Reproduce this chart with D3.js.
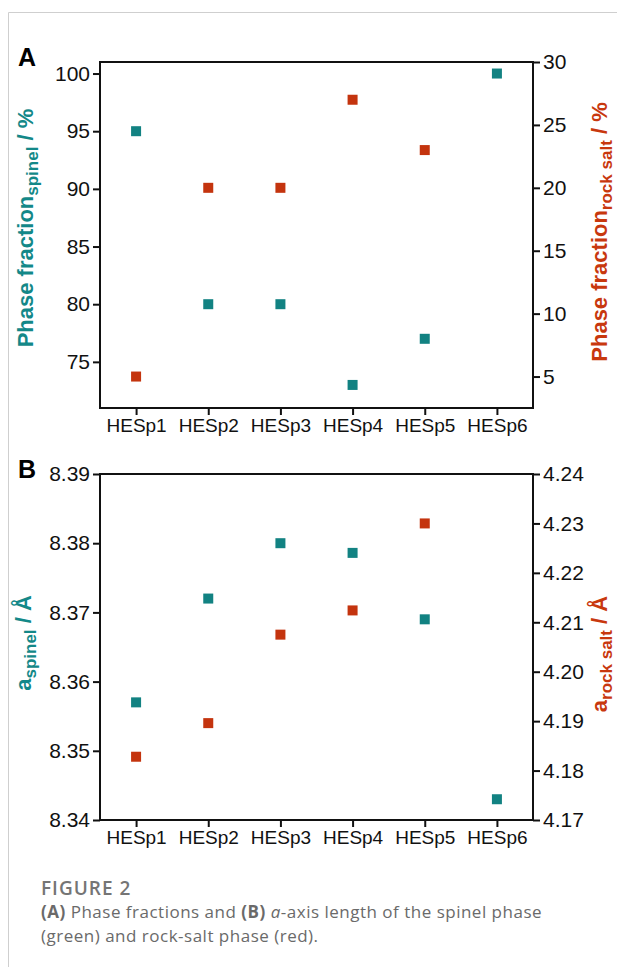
<!DOCTYPE html>
<html>
<head>
<meta charset="utf-8">
<script src="https://cdn.jsdelivr.net/npm/d3@7"></script>
<style>
  body { margin: 0; background: #fff; }
  text { font-family: "Liberation Sans", Arial, sans-serif; }
  .caption { font-family: "Open Sans", "Noto Sans", sans-serif; }
</style>
</head>
<body>
<div id="my_dataviz"></div>
<script>
// data
const samples = ['HESp1', 'HESp2', 'HESp3', 'HESp4', 'HESp5', 'HESp6'];
const fracSpinel = [95, 80, 80, 73, 77, 100];
const fracRockSalt = [5, 20, 20, 27, 23, null];
const aSpinel = [8.357, 8.372, 8.380, 8.3786, 8.369, 8.343];
const aRockSalt = [4.1828, 4.1896, 4.2075, 4.2124, 4.2300, null];

const ticksFracSpinel = [75, 80, 85, 90, 95, 100];
const ticksFracRockSalt = [5, 10, 15, 20, 25, 30];
const ticksASpinel = [8.34, 8.35, 8.36, 8.37, 8.38, 8.39];
const ticksARockSalt = [4.17, 4.18, 4.19, 4.20, 4.21, 4.22, 4.23, 4.24];

const green = "#128282", red = "#c4340e";
const greenLabel = "#138888", redLabel = "#c8380e";

const W = 617, H = 967;
const left = 100, right = 533;

const svg = d3.select("#my_dataviz")
  .append("svg")
    .attr("width", W)
    .attr("height", H);

// page frame (top + left rule)
svg.append("path")
  .attr("d", `M8.5,967 V12.5 H617`)
  .attr("fill", "none")
  .attr("stroke", "#cfcfcf")
  .attr("stroke-width", 1);

const x = d3.scalePoint()
  .domain(samples)
  .range([left, right])
  .padding(0.5);

// one panel = box, 2 y axes, x axis, squares, labels
function panel(opt) {
  const g = svg.append("g");
  const yL = d3.scaleLinear().domain(opt.domL).range([opt.bottom, opt.top]);
  const yR = d3.scaleLinear().domain(opt.domR).range([opt.bottom, opt.top]);

  // x axis
  const xa = g.append("g")
    .attr("transform", `translate(0,${opt.bottom})`)
    .call(d3.axisBottom(x).tickSize(7).tickPadding(4).tickSizeOuter(0));
  xa.selectAll("text").style("font-size", "19px").attr("fill", "#111");

  // left axis
  const la = g.append("g")
    .attr("transform", `translate(${left},0)`)
    .call(d3.axisLeft(yL).tickValues(opt.ticksL).tickFormat(opt.fmtL)
      .tickSize(7).tickPadding(3).tickSizeOuter(0));
  la.selectAll("text").style("font-size", "21px").attr("fill", "#111");

  // right axis
  const ra = g.append("g")
    .attr("transform", `translate(${right},0)`)
    .call(d3.axisRight(yR).tickValues(opt.ticksR).tickFormat(opt.fmtR)
      .tickSize(7).tickPadding(3).tickSizeOuter(0));
  ra.selectAll("text").style("font-size", "21px").attr("fill", "#111");

  g.selectAll(".domain").remove();
  g.selectAll(".tick line").attr("stroke", "#111").attr("stroke-width", 2);

  // frame
  g.append("rect")
    .attr("x", left).attr("y", opt.top)
    .attr("width", right - left).attr("height", opt.bottom - opt.top)
    .attr("fill", "none")
    .attr("stroke", "#111")
    .attr("stroke-width", 2);

  const s = 10;
  // rock salt squares (red, right axis)
  g.append("g").selectAll("rect")
    .data(samples.map((d, i) => [d, opt.valsR[i]]).filter(d => d[1] != null))
    .join("rect")
      .attr("x", d => x(d[0]) - s / 2)
      .attr("y", d => yR(d[1]) - s / 2)
      .attr("width", s).attr("height", s)
      .attr("fill", red);

  // spinel squares (green, left axis)
  g.append("g").selectAll("rect")
    .data(samples.map((d, i) => [d, opt.valsL[i]]).filter(d => d[1] != null))
    .join("rect")
      .attr("x", d => x(d[0]) - s / 2)
      .attr("y", d => yL(d[1]) - s / 2)
      .attr("width", s).attr("height", s)
      .attr("fill", green);

  // panel letter
  g.append("text")
    .attr("x", 18).attr("y", opt.top + 4)
    .style("font-size", "25px")
    .style("font-weight", "bold")
    .text(opt.letter);

  // axis titles, rotated
  function title(cx, cy, color, main, sub, tail) {
    const t = g.append("text")
      .attr("transform", `translate(${cx},${cy}) rotate(-90)`)
      .attr("text-anchor", "middle")
      .attr("fill", color)
      .style("font-weight", "bold")
      .style("font-size", "22px");
    t.append("tspan").text(main);
    t.append("tspan").attr("dy", 5).style("font-size", "17px").text(sub);
    t.append("tspan").attr("dy", -5).text(tail);
  }
  title(opt.titleL[0], opt.titleL[1], greenLabel, opt.mainL, "spinel", " / " + opt.unit);
  title(opt.titleR[0], opt.titleR[1], redLabel, opt.mainR, "rock salt", " / " + opt.unit);
}

panel({
  top: 62, bottom: 408, letter: "A",
  domL: [71, 101], domR: [2.5, 30],
  ticksL: ticksFracSpinel, ticksR: ticksFracRockSalt,
  fmtL: d3.format("d"), fmtR: d3.format("d"),
  valsL: fracSpinel, valsR: fracRockSalt,
  mainL: "Phase fraction", mainR: "Phase fraction", unit: "%",
  titleL: [33, 228], titleR: [607, 232]
});

panel({
  top: 474, bottom: 820, letter: "B",
  domL: [8.34, 8.39], domR: [4.17, 4.24],
  ticksL: ticksASpinel, ticksR: ticksARockSalt,
  fmtL: d3.format(".2f"), fmtR: d3.format(".2f"),
  valsL: aSpinel, valsR: aRockSalt,
  mainL: "a", mainR: "a", unit: "Å",
  titleL: [31, 643], titleR: [607, 654]
});

// caption
const cap = svg.append("g").attr("class", "caption");
cap.append("text")
  .attr("class", "caption")
  .attr("x", 41).attr("y", 895)
  .attr("fill", "#757575")
  .style("font-size", "19px")
  .style("font-weight", "600")
  .style("letter-spacing", "1px")
  .text("FIGURE 2");

const l1 = cap.append("text")
  .attr("class", "caption")
  .attr("x", 41).attr("y", 918)
  .attr("fill", "#6a6a6a")
  .style("font-size", "17px")
  .style("letter-spacing", "0.5px");
l1.append("tspan").style("font-weight", "bold").text("(A)");
l1.append("tspan").text(" Phase fractions and ");
l1.append("tspan").style("font-weight", "bold").text("(B)");
l1.append("tspan").text(" ");
l1.append("tspan").style("font-style", "italic").text("a");
l1.append("tspan").text("-axis length of the spinel phase");

cap.append("text")
  .attr("class", "caption")
  .attr("x", 41).attr("y", 942)
  .attr("fill", "#6a6a6a")
  .style("font-size", "17px")
  .style("letter-spacing", "0.5px")
  .text("(green) and rock-salt phase (red).");
</script>
</body>
</html>
